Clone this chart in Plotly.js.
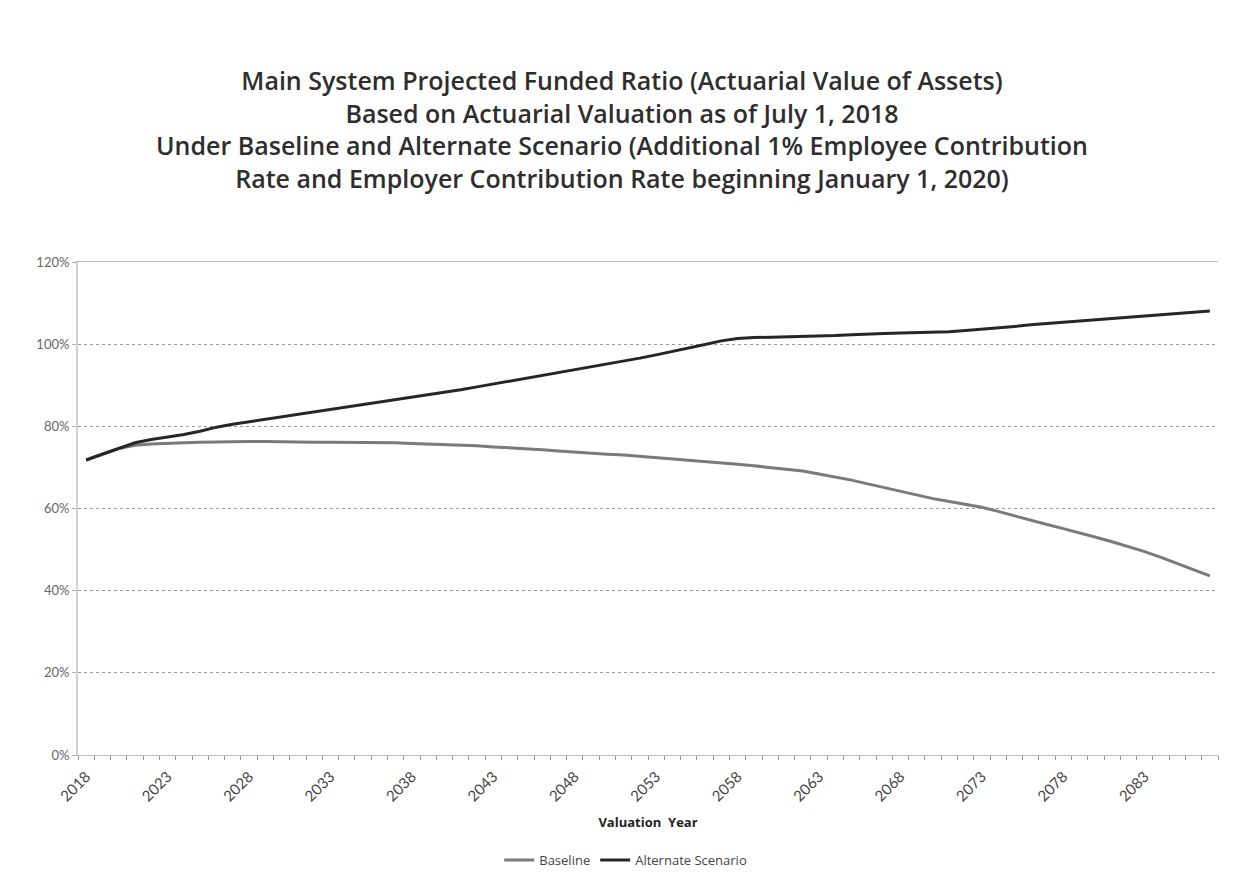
<!DOCTYPE html>
<html>
<head>
<meta charset="utf-8">
<script src="https://cdn.plot.ly/plotly-3.0.1.min.js"></script>
<style>html,body{margin:0;padding:0;background:#fff;}#chart{width:1244px;height:880px;}</style>
</head>
<body>
<div id="chart"></div>
<script>
// Valuation years 2018-2087
const years = [2018,2019,2020,2021,2022,2023,2024,2025,2026,2027,2028,2029,2030,2031,2032,2033,2034,2035,2036,2037,
  2038,2039,2040,2041,2042,2043,2044,2045,2046,2047,2048,2049,2050,2051,2052,2053,2054,2055,2056,2057,
  2058,2059,2060,2061,2062,2063,2064,2065,2066,2067,2068,2069,2070,2071,2072,2073,2074,2075,2076,2077,
  2078,2079,2080,2081,2082,2083,2084,2085,2086,2087];

// Funded ratio (%), Baseline
const baseline = [71.8,73.3,74.6,75.4,75.7,75.9,76.0,76.1,76.2,76.3,76.3,76.3,76.2,76.2,76.1,76.1,76.1,76.0,76.0,76.0,
  75.8,75.7,75.6,75.5,75.3,75.0,74.8,74.6,74.3,74.0,73.7,73.4,73.2,73.0,72.7,72.4,72.1,71.8,71.4,71.1,
  70.8,70.4,70.0,69.6,69.1,68.4,67.7,66.9,66.0,65.1,64.2,63.3,62.4,61.7,61.0,60.3,59.3,58.2,57.2,56.1,
  55.1,54.1,53.0,51.9,50.7,49.5,48.1,46.6,45.1,43.6];

// Funded ratio (%), Alternate Scenario
const alternate = [71.8,73.2,74.7,76.0,76.8,77.4,78.0,78.8,79.8,80.5,81.1,81.7,82.3,82.9,83.4,84.0,84.6,85.2,85.8,86.4,
  87.0,87.6,88.2,88.9,89.6,90.3,91.0,91.6,92.3,93.0,93.7,94.4,95.2,95.9,96.6,97.4,98.2,99.0,99.9,100.8,
  101.4,101.6,101.7,101.8,101.8,101.9,102.1,102.3,102.5,102.6,102.7,102.8,102.9,103.0,103.3,103.6,104.0,104.3,104.7,105.0,
  105.3,105.6,105.9,106.2,106.6,106.9,107.2,107.5,107.8,108.1];

const xTickVals = [2018,2023,2028,2033,2038,2043,2048,2053,2058,2063,2068,2073,2078,2083];
const yTickVals = [0,20,40,60,80,100,120];
const yTickText = ['0%','20%','40%','60%','80%','100%','120%'];

const titleText = 'Main System Projected Funded Ratio (Actuarial Value of Assets)<br>' +
  'Based on Actuarial Valuation as of July 1, 2018<br>' +
  'Under Baseline and Alternate Scenario (Additional 1% Employee Contribution<br>' +
  'Rate and Employer Contribution Rate beginning January 1, 2020)';

const traces = [
  {x: years, y: baseline, type: 'scatter', mode: 'lines', name: 'Baseline',
   line: {color: '#7a7a7a', width: 3}},
  {x: years, y: alternate, type: 'scatter', mode: 'lines', name: 'Alternate Scenario',
   line: {color: '#262626', width: 3}}
];

const layout = {
  width: 1244, height: 880,
  paper_bgcolor: '#ffffff', plot_bgcolor: '#ffffff',
  margin: {l: 78, r: 26, t: 262, b: 125},
  font: {family: 'Lato, "Open Sans", sans-serif', color: '#444'},
  title: {text: titleText, x: 0.5, xref: 'container', xanchor: 'center',
          y: 1 - 90/880, yref: 'container', yanchor: 'top',
          font: {family: '"Open Sans", Lato, sans-serif', size: 25, color: '#2e2e2e', weight: 600}},
  xaxis: {
    range: [2017.5, 2087.5], tickmode: 'array', tickvals: xTickVals,
    ticktext: xTickVals.map(String),
    tickangle: -45, ticks: '', showgrid: false, zeroline: false,
    showline: true, linecolor: '#bdbdbd', linewidth: 1, mirror: true,
    ticklabelstandoff: 6,
    tickfont: {family: 'Lato, sans-serif', size: 15, color: '#444'},
    minor: {tickmode: 'linear', tick0: 2017.5, dtick: 1, ticks: 'outside', ticklen: 4, tickcolor: '#999', showgrid: false},
    title: {text: 'Valuation&nbsp;&nbsp;Year', standoff: 14, font: {family: '"Open Sans", sans-serif', size: 13, color: '#222', weight: 'bold'}}
  },
  yaxis: {
    range: [0, 120], tickmode: 'array', tickvals: yTickVals, ticktext: yTickText,
    showgrid: true, gridcolor: '#9a9a9a', griddash: 'dot', gridwidth: 1,
    zeroline: false, showline: true, linecolor: '#cfcfcf', linewidth: 2,
    ticks: 'outside', ticklen: 4, tickcolor: '#aaa',
    tickfont: {family: 'Lato, sans-serif', size: 13, color: '#666'}
  },
  showlegend: true,
  legend: {orientation: 'h', x: 0.503, xref: 'container', xanchor: 'center',
           y: 1 - 860/880, yref: 'container', yanchor: 'middle',
           font: {family: '"Open Sans", sans-serif', size: 13, color: '#444'}, traceorder: 'normal'}
};

Plotly.newPlot('chart', traces, layout, {displayModeBar: false, staticPlot: true});
</script>
</body>
</html>
